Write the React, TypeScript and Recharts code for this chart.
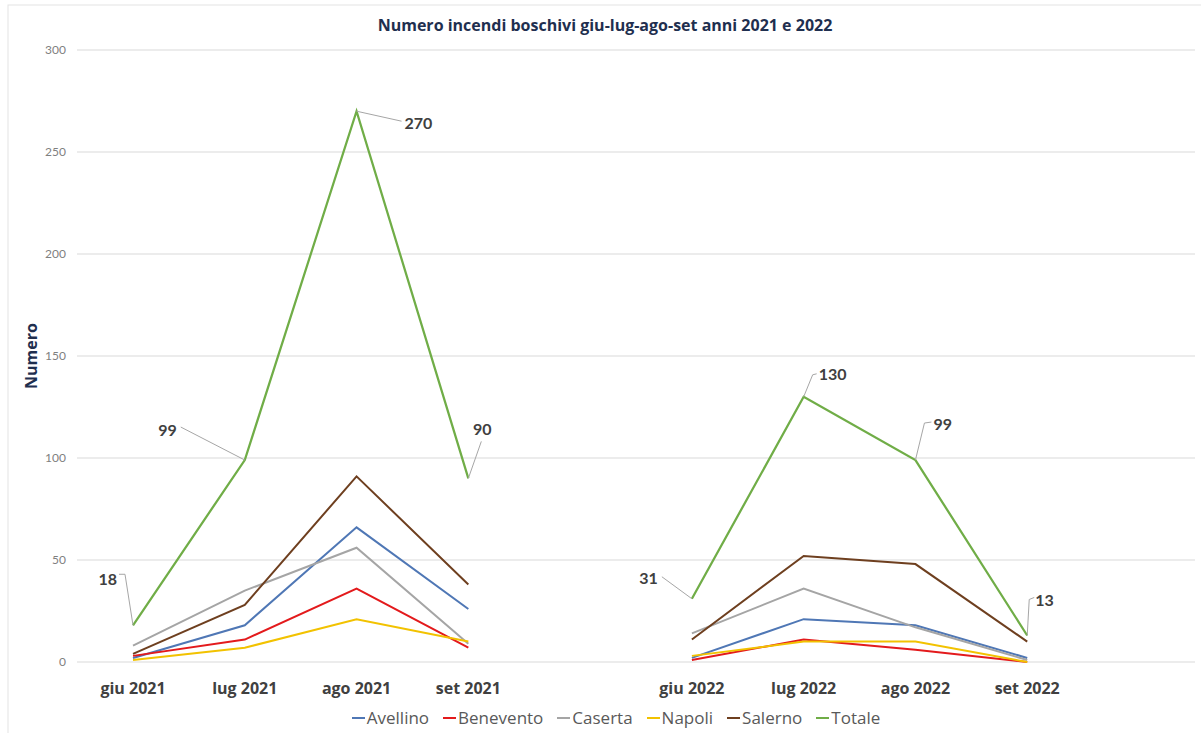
import React from 'react';
import { LineChart, Line, XAxis, YAxis, CartesianGrid, Legend, LabelList } from 'recharts';

const categories = ['giu 2021', 'lug 2021', 'ago 2021', 'set 2021', '', 'giu 2022', 'lug 2022', 'ago 2022', 'set 2022', ' '];
const avellino = [2, 18, 66, 26, null, 2, 21, 18, 2, null];
const benevento = [3, 11, 36, 7, null, 1, 11, 6, 0, null];
const caserta = [8, 35, 56, 9, null, 14, 36, 17, 1, null];
const napoli = [1, 7, 21, 10, null, 3, 10, 10, 0, null];
const salerno = [4, 28, 91, 38, null, 11, 52, 48, 10, null];
const totale = [18, 99, 270, 90, null, 31, 130, 99, 13, null];
const yTicks = [0, 50, 100, 150, 200, 250, 300];

const seriesNames = ['Avellino', 'Benevento', 'Caserta', 'Napoli', 'Salerno', 'Totale'];
const seriesColors = ['#4f77b5', '#e31a1c', '#a5a5a5', '#f2c200', '#6e3f1f', '#70ad47'];
const seriesValues = [avellino, benevento, caserta, napoli, salerno, totale];

const data = categories.map((c, i) => {
  const row: any = { cat: c };
  seriesNames.forEach((n, k) => {
    row[n] = seriesValues[k][i];
  });
  return row;
});

// callout geometry (relative to the data point) for the Totale labels
const callouts: Record<number, { pts: number[][]; tx: number; ty: number; anchor: string }> = {
  0: { pts: [[-8, -51], [-14, -51]], tx: -16, ty: -47, anchor: 'end' },
  1: { pts: [[-64, -33]], tx: -68, ty: -31, anchor: 'end' },
  2: { pts: [[45, 10]], tx: 48, ty: 11, anchor: 'start' },
  3: { pts: [[13, -37]], tx: 14, ty: -50, anchor: 'middle' },
  5: { pts: [[-30, -22]], tx: -34, ty: -21, anchor: 'end' },
  6: { pts: [[9, -22], [13, -23]], tx: 15, ty: -23, anchor: 'start' },
  7: { pts: [[9, -37], [16, -38]], tx: 18, ty: -37, anchor: 'start' },
  8: { pts: [[2, -36], [7, -38]], tx: 8, ty: -36, anchor: 'start' },
};

const TotalLabel = (props: any) => {
  const { x, y, value, index } = props;
  if (value === null || value === undefined) return null;
  const c = callouts[index];
  if (!c) return null;
  const d = `M${x},${y} ` + c.pts.map((p) => `L${x + p[0]},${y + p[1]}`).join(' ');
  return (
    <g>
      <path d={d} stroke="#a6a6a6" strokeWidth={1} fill="none" />
      <text
        x={x + c.tx}
        y={y + c.ty}
        textAnchor={c.anchor as any}
        dominantBaseline="central"
        fontSize={16}
        fontWeight="bold"
        fill="#404040"
        fontFamily="Lato, sans-serif"
      >
        {value}
      </text>
    </g>
  );
};

const LegendContent = () => (
  <div
    style={{
      display: 'flex',
      justifyContent: 'center',
      alignItems: 'center',
      gap: 14,
      fontSize: 17,
      color: '#595959',
      fontFamily: '"Open Sans", sans-serif',
    }}
  >
    {seriesNames.map((n, k) => (
      <div key={n} style={{ display: 'flex', alignItems: 'center' }}>
        <span style={{ display: 'inline-block', width: 13, height: 2, background: seriesColors[k], marginRight: 2 }} />
        <span>{n}</span>
      </div>
    ))}
  </div>
);

export default function App() {
  return (
    <div style={{ position: 'absolute', left: 0, top: 0, width: 1201, height: 733, background: '#fff', fontFamily: 'Lato, sans-serif' }}>
      <LineChart width={1201} height={733} data={data} margin={{ top: 50, right: 6, left: 37, bottom: 5 }}>
        <rect x={8} y={5} width={1200} height={740} fill="none" stroke="#e3e3e3" strokeWidth={1} />
        <text
          x={605}
          y={25}
          textAnchor="middle"
          dominantBaseline="central"
          fontSize={16}
          fontWeight="bold"
          fill="#1f2f4f"
          fontFamily='"Open Sans", sans-serif'
        >
          Numero incendi boschivi giu-lug-ago-set anni 2021 e 2022
        </text>
        <text
          x={31}
          y={356}
          transform="rotate(-90, 31, 356)"
          textAnchor="middle"
          dominantBaseline="central"
          fontSize={16}
          fontWeight="bold"
          fill="#1f2f4f"
          fontFamily='"Open Sans", sans-serif'
        >
          Numero
        </text>
        <CartesianGrid vertical={false} stroke="#d9d9d9" />
        <XAxis
          dataKey="cat"
          axisLine={false}
          tickLine={false}
          tickSize={6}
          tickMargin={15}
          height={44}
          interval={0}
          padding={{ left: 56, right: 56 }}
          tick={{ fontSize: 16, fontWeight: 'bold', fill: '#404040', fontFamily: '"Open Sans", sans-serif' }}
        />
        <YAxis
          domain={[0, 300]}
          ticks={yTicks}
          width={40}
          axisLine={false}
          tickLine={false}
          tickSize={3}
          tickMargin={8}
          tick={{ fontSize: 12, fill: '#7f7f7f' }}
        />
        <Legend verticalAlign="bottom" height={22} content={<LegendContent />} />
        {seriesNames.map((n, k) => (
          <Line
            key={n}
            type="linear"
            dataKey={n}
            stroke={seriesColors[k]}
            strokeWidth={n === 'Totale' ? 2.25 : 2}
            dot={false}
            activeDot={false}
            isAnimationActive={false}
          >
            {n === 'Totale' ? <LabelList dataKey={n} content={<TotalLabel />} /> : null}
          </Line>
        ))}
      </LineChart>
    </div>
  );
}
